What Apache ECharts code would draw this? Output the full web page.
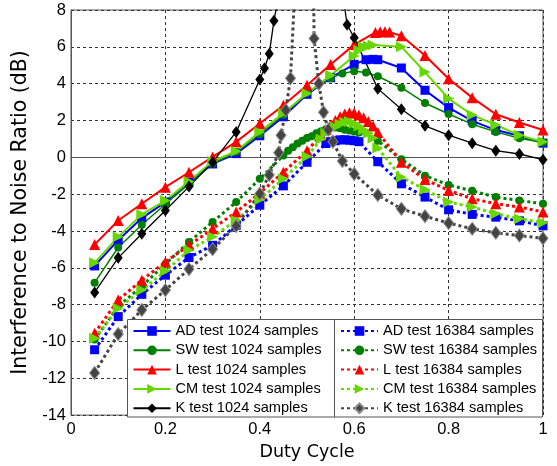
<!DOCTYPE html>
<html>
<head>
<meta charset="utf-8">
<script src="https://cdn.jsdelivr.net/npm/echarts@6/dist/echarts.min.js"></script>
<style>
html,body{margin:0;padding:0;background:#fff;}
#c{width:557px;height:466px;}
</style>
</head>
<body>
<div id="c"></div>
<script>
// ---- data: [duty cycle, INR dB] ----
const AD_1024 = [[0.05,-5.9],[0.1,-4.5],[0.15,-3.3],[0.2,-2.43],[0.25,-1.35],[0.3,-0.36],[0.35,0.2],[0.4,1.17],[0.45,2.2],[0.5,3.42],[0.55,4.32],[0.6,5.05],[0.625,5.3],[0.64,5.32],[0.65,5.3],[0.7,4.85],[0.75,3.64],[0.8,2.7],[0.85,1.98],[0.9,1.48],[0.95,1.17],[1.0,0.77]];
const SW_1024 = [[0.05,-6.81],[0.1,-4.9],[0.15,-3.66],[0.2,-2.55],[0.25,-1.45],[0.3,-0.35],[0.35,0.3],[0.4,1.25],[0.45,2.3],[0.5,3.5],[0.55,4.3],[0.575,4.55],[0.6,4.68],[0.625,4.6],[0.65,4.4],[0.7,3.78],[0.75,2.95],[0.8,2.35],[0.85,1.8],[0.9,1.38],[0.95,1.03],[1.0,0.81]];
const L_1024 = [[0.05,-4.74],[0.1,-3.43],[0.15,-2.52],[0.2,-1.62],[0.25,-0.81],[0.3,0.02],[0.35,0.84],[0.4,1.84],[0.45,2.83],[0.5,3.91],[0.55,5.04],[0.6,6.12],[0.645,6.78],[0.655,6.82],[0.665,6.82],[0.675,6.8],[0.7,6.6],[0.75,5.53],[0.8,4.27],[0.85,3.24],[0.9,2.34],[0.95,1.89],[1.0,1.48]];
const CM_1024 = [[0.05,-5.73],[0.1,-4.32],[0.15,-3.1],[0.2,-2.35],[0.25,-1.32],[0.3,-0.22],[0.35,0.33],[0.4,1.38],[0.45,2.39],[0.5,3.46],[0.55,4.45],[0.6,5.5],[0.61,5.8],[0.62,6.0],[0.63,6.05],[0.64,6.1],[0.7,6.0],[0.75,4.63],[0.8,3.19],[0.85,2.3],[0.9,1.76],[0.95,1.2],[1.0,0.84]];
const K_1024 = [[0.05,-7.34],[0.1,-5.46],[0.15,-4.15],[0.2,-2.89],[0.25,-1.59],[0.3,-0.27],[0.35,1.38],[0.4,4.23],[0.41,4.83],[0.42,5.62],[0.43,7.42],[0.44,8.8],[0.45,12],[0.5,30],[0.55,14],[0.575,9],[0.585,7.2],[0.6,6.49],[0.65,3.73],[0.7,2.61],[0.75,1.71],[0.8,1.2],[0.85,0.77],[0.9,0.36],[0.95,0.18],[1.0,-0.13]];

const AD_16384 = [[0.05,-10.45],[0.1,-8.65],[0.15,-7.44],[0.2,-6.4],[0.25,-5.44],[0.3,-4.78],[0.35,-3.7],[0.4,-2.6],[0.45,-1.55],[0.5,-0.27],[0.54,0.75],[0.55,0.85],[0.56,0.9],[0.57,0.95],[0.58,0.95],[0.59,0.93],[0.6,0.9],[0.61,0.85],[0.65,-0.24],[0.7,-1.44],[0.75,-2.16],[0.8,-2.85],[0.85,-3.1],[0.9,-3.25],[0.95,-3.45],[1.0,-3.72]];
const SW_16384 = [[0.05,-9.9],[0.1,-8.1],[0.15,-7.0],[0.2,-5.8],[0.25,-4.6],[0.3,-3.51],[0.35,-2.43],[0.4,-1.17],[0.45,0.1],[0.46,0.35],[0.47,0.55],[0.48,0.75],[0.49,0.9],[0.5,1.05],[0.51,1.15],[0.52,1.3],[0.53,1.42],[0.54,1.52],[0.55,1.6],[0.56,1.62],[0.57,1.58],[0.58,1.5],[0.59,1.45],[0.6,1.4],[0.61,1.35],[0.65,0.9],[0.7,-0.1],[0.75,-1.0],[0.8,-1.5],[0.85,-1.82],[0.9,-2.16],[0.95,-2.35],[1.0,-2.52]];
const L_16384 = [[0.05,-9.55],[0.1,-7.75],[0.15,-6.67],[0.2,-5.68],[0.25,-4.78],[0.3,-3.88],[0.35,-2.97],[0.4,-1.95],[0.45,-0.81],[0.5,0.36],[0.53,1.2],[0.54,1.5],[0.55,1.75],[0.56,2.0],[0.57,2.2],[0.58,2.35],[0.59,2.42],[0.6,2.4],[0.61,2.3],[0.62,2.15],[0.63,1.95],[0.64,1.7],[0.65,1.35],[0.7,-0.27],[0.75,-1.2],[0.8,-1.8],[0.85,-2.25],[0.9,-2.52],[0.95,-2.7],[1.0,-2.97]];
const CM_16384 = [[0.05,-9.82],[0.1,-8.2],[0.15,-7.21],[0.2,-6.18],[0.25,-5.05],[0.3,-4.32],[0.35,-3.43],[0.4,-2.29],[0.45,-1.17],[0.5,0.05],[0.53,1.0],[0.54,1.3],[0.55,1.5],[0.56,1.65],[0.57,1.8],[0.58,1.9],[0.59,1.95],[0.6,1.85],[0.61,1.7],[0.62,1.5],[0.63,1.3],[0.64,1.05],[0.65,0.5],[0.7,-1.08],[0.75,-1.75],[0.8,-2.43],[0.85,-2.7],[0.9,-3.06],[0.95,-3.34],[1.0,-3.55]];
const K_16384 = [[0.05,-11.71],[0.1,-9.6],[0.15,-8.29],[0.2,-7.21],[0.25,-6.07],[0.3,-4.99],[0.35,-3.73],[0.4,-1.98],[0.42,-0.96],[0.44,0.25],[0.445,1.2],[0.455,2.56],[0.465,4.29],[0.475,9.5],[0.49,16],[0.5,22],[0.51,20],[0.515,6.45],[0.525,4.0],[0.535,2.45],[0.545,1.5],[0.555,0.85],[0.575,-0.2],[0.6,-0.9],[0.65,-2.05],[0.7,-2.8],[0.75,-3.2],[0.8,-3.57],[0.85,-3.88],[0.9,-4.1],[0.95,-4.25],[1.0,-4.4]];

const NAMES_1024 = ['AD test 1024 samples','SW test 1024 samples','L test 1024 samples','CM test 1024 samples','K test 1024 samples'];
const NAMES_16384 = ['AD test 16384 samples','SW test 16384 samples','L test 16384 samples','CM test 16384 samples','K test 16384 samples'];
const X_TICKS = [0, 0.2, 0.4, 0.6, 0.8, 1];
const Y_MIN = -14, Y_MAX = 8, Y_STEP = 2;

const FONT = 'Arial, "Liberation Sans", sans-serif';
const TITLE_FONT = '"DejaVu Sans", sans-serif';
const BLUE='#0000ff', DGREEN='#008000', RED='#ff0000', LIME='#66d800', BLACK='#000000', GRAY='#444444';

function mk(name, data, color, symbol, size, dotted, rotate, width, border) {
  return {
    name: name, type: 'line', data: data,
    symbol: symbol, symbolSize: size, symbolRotate: rotate || 0,
    showSymbol: true, clip: true,
    itemStyle: { color: color, borderColor: border || color, borderWidth: border ? 1 : 0 },
    lineStyle: { color: color, width: width, type: dotted ? [3, 3] : 'solid' },
    emphasis: { disabled: true },
    animation: false
  };
}

const series = [
  mk(NAMES_1024[0], AD_1024, BLUE, 'rect', 9, false, 0, 2),
  mk(NAMES_1024[1], SW_1024, DGREEN, 'circle', 8, false, 0, 1.5),
  mk(NAMES_1024[2], L_1024, RED, 'triangle', 11, false, 0, 2),
  mk(NAMES_1024[3], CM_1024, LIME, 'triangle', 11, false, -90, 2),
  mk(NAMES_1024[4], K_1024, BLACK, 'diamond', [9, 12], false, 0, 1.3),
  mk(NAMES_16384[0], AD_16384, BLUE, 'rect', 9, true, 0, 3),
  mk(NAMES_16384[1], SW_16384, DGREEN, 'circle', 8, true, 0, 3),
  mk(NAMES_16384[2], L_16384, RED, 'triangle', 11, true, 0, 3),
  mk(NAMES_16384[3], CM_16384, LIME, 'triangle', 11, true, -90, 3),
  mk(NAMES_16384[4], K_16384, GRAY, 'diamond', [10, 13], true, 0, 3, '#8a8a8a')
];

function legendCfg(names, left) {
  return {
    data: names, orient: 'vertical', left: left, top: 323.5, padding: 0,
    itemWidth: 37, itemHeight: 12, itemGap: 4.3, z: 20,
    selectedMode: false,
    textStyle: { fontFamily: FONT, fontSize: 14.6, color: '#000', lineHeight: 15 }
  };
}

const chart = echarts.init(document.getElementById('c'), null, { renderer: 'canvas' });
chart.setOption({
  animation: false,
  backgroundColor: '#ffffff',
  grid: { left: 71, right: 14, top: 10, bottom: 49, show: true, borderColor: '#555', borderWidth: 1, backgroundColor: '#fff' },
  xAxis: {
    type: 'value', min: X_TICKS[0], max: X_TICKS[X_TICKS.length - 1], interval: 0.2,
    name: 'Duty Cycle', nameLocation: 'middle', nameGap: 24,
    nameTextStyle: { fontFamily: TITLE_FONT, fontSize: 17.5, color: '#000' },
    axisLine: { lineStyle: { color: '#555' } },
    axisTick: { show: false },
    axisLabel: { fontFamily: FONT, fontSize: 16.5, color: '#000', margin: 6,
      formatter: v => String(+v.toFixed(1)) },
    splitLine: { show: true, lineStyle: { color: '#333', type: [3, 3], width: 1 } }
  },
  yAxis: {
    type: 'value', min: Y_MIN, max: Y_MAX, interval: Y_STEP,
    name: 'Interference to Noise Ratio (dB)', nameLocation: 'middle', nameGap: 33,
    nameTextStyle: { fontFamily: TITLE_FONT, fontSize: 20.5, color: '#000' },
    axisLine: { show: true, lineStyle: { color: '#555' } },
    axisTick: { show: false },
    axisLabel: { fontFamily: FONT, fontSize: 16.5, color: '#000', margin: 5 },
    splitLine: { show: true, lineStyle: { color: '#333', type: [3, 3], width: 1 } }
  },
  legend: [legendCfg(NAMES_1024, 132.5), legendCfg(NAMES_16384, 340)],
  graphic: [
    { type: 'rect', z: 15, shape: { x: 127.5, y: 319.5, width: 415, height: 97.5 },
      style: { fill: '#fff', stroke: '#555', lineWidth: 1 } },
    { type: 'line', z: 16, shape: { x1: 334.5, y1: 319.5, x2: 334.5, y2: 417 },
      style: { stroke: '#555', lineWidth: 1 } }
  ],
  series: series
});
</script>
</body>
</html>
